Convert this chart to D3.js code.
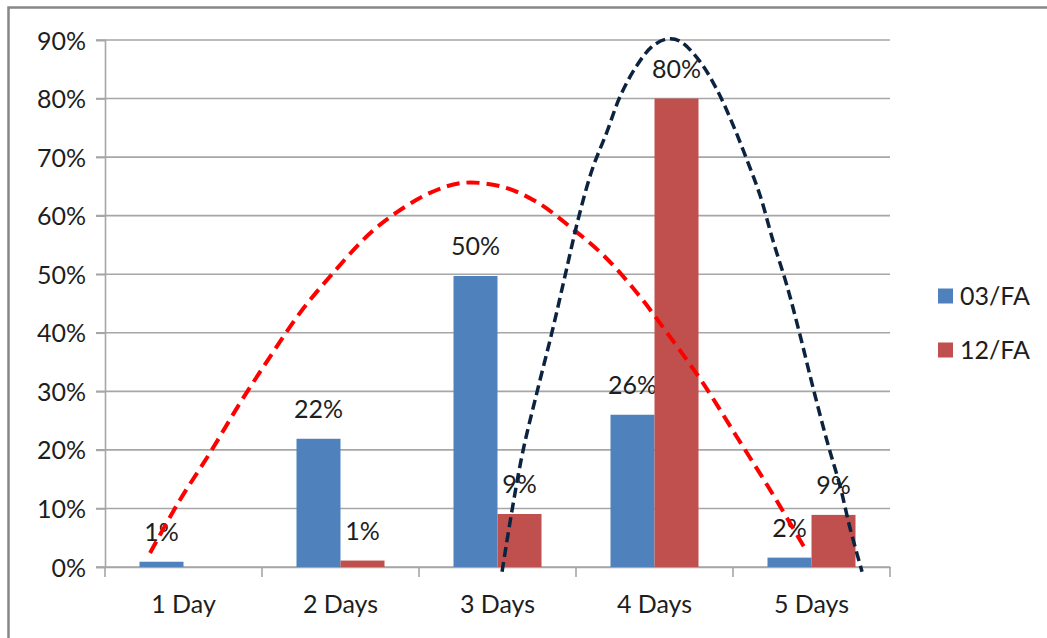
<!DOCTYPE html>
<html>
<head>
<meta charset="utf-8">
<script src="https://cdn.jsdelivr.net/npm/d3@7"></script>
<style>
  html, body { margin: 0; padding: 0; background: #fff; }
  svg { display: block; }
  text { font-family: Lato, "Open Sans", sans-serif; fill: #1e1e1e; }
</style>
</head>
<body>
<svg id="chart" width="1047" height="638"></svg>
<script>
// ---- data ----
const categories = ["1 Day", "2 Days", "3 Days", "4 Days", "5 Days"];
const seriesNames = ["03/FA", "12/FA"];
const values03 = [0.9, 21.9, 49.7, 26, 1.6];
const values12 = [0, 1.1, 9.05, 80, 8.9];
const labels03 = ["1%", "22%", "50%", "26%", "2%"];
const labels12 = ["", "1%", "9%", "80%", "9%"];
const yTicks = [0, 10, 20, 30, 40, 50, 60, 70, 80, 90];
const seriesColors = ["#4f81bd", "#c0504d"];
// hand-drawn trend curves (x in category units, 0 = "1 Day"; y in %)
const redCurveX = [-0.213, -0.035, 0.169, 0.360, 0.551, 0.742, 0.952, 1.188, 1.360, 1.570, 1.780, 2.035, 2.252, 2.462, 2.672, 2.889, 3.099, 3.309, 3.525, 3.736, 3.971];
const redCurveY = [2.4, 10.9, 19.5, 28.0, 35.9, 43.4, 50.2, 57.0, 60.6, 63.9, 65.6, 64.9, 62.3, 58.1, 53.3, 46.8, 39.3, 31.4, 22.2, 13.2, 2.6];
const navyCurveX = [2.029, 2.092, 2.162, 2.252, 2.347, 2.430, 2.513, 2.602, 2.697, 2.780, 2.889, 2.990, 3.086, 3.162, 3.290, 3.398, 3.500, 3.589, 3.672, 3.755, 3.844, 3.927, 4.010, 4.099, 4.182, 4.245, 4.322];
const navyCurveY = [-0.8, 9.6, 19.8, 29.9, 40.1, 49.7, 59.3, 67.8, 74.3, 80.3, 85.7, 89.0, 90.2, 89.8, 86.3, 81.5, 75.5, 69.5, 63.5, 55.7, 48.0, 39.6, 30.6, 21.5, 13.8, 6.7, -0.8];

// ---- layout ----
const svg = d3.select("#chart");
const L = 105, R = 890, T = 40, B = 567;

// outer frame
svg.append("rect")
  .attr("x", 8.5).attr("y", 7.5).attr("width", 1100).attr("height", 700)
  .attr("fill", "none").attr("stroke", "#878787").attr("stroke-width", 2.5);

const x0 = d3.scaleBand().domain(categories).range([L, R]).paddingInner(0).paddingOuter(0);
const x1 = d3.scaleBand().domain(seriesNames).range([0, x0.bandwidth()]).paddingInner(0).paddingOuter(0.784);
const y = d3.scaleLinear().domain([0, 90]).range([B, T]);
const xc = d3.scaleLinear().domain([-0.5, 4.5]).range([L, R]);

// gridlines
svg.append("g").selectAll("line").data(yTicks).join("line")
  .attr("x1", L - 9).attr("x2", R)
  .attr("y1", d => y(d)).attr("y2", d => y(d))
  .attr("stroke", "#a6a6a6").attr("stroke-width", 1.6);

// y axis
const yAxis = svg.append("g").attr("transform", `translate(${L},0)`)
  .call(d3.axisLeft(y).tickValues(yTicks).tickSize(9).tickPadding(10).tickFormat(d => d + "%"));
yAxis.select(".domain").attr("stroke", "#a6a6a6").attr("stroke-width", 1.6);
yAxis.selectAll(".tick line").attr("stroke", "#a6a6a6").attr("stroke-width", 1.6);
yAxis.selectAll(".tick text").attr("font-size", 25).attr("font-family", "Lato").attr("fill", "#1e1e1e").attr("dy", "0.36em");

// x axis
const xAxis = svg.append("g").attr("transform", `translate(0,${B})`)
  .call(d3.axisBottom(x0).tickSize(0).tickPadding(28));
xAxis.select(".domain").attr("stroke", "#a6a6a6").attr("stroke-width", 1.6);
xAxis.selectAll(".tick text").attr("font-size", 25).attr("font-family", "Lato").attr("fill", "#1e1e1e");
// category boundary ticks
const bounds = categories.map(c => x0(c)).concat([x0(categories[categories.length - 1]) + x0.bandwidth()]);
svg.append("g").selectAll("line").data(bounds).join("line")
  .attr("x1", d => d).attr("x2", d => d).attr("y1", B).attr("y2", B + 10)
  .attr("stroke", "#a6a6a6").attr("stroke-width", 1.6);

// bars
const seriesData = [values03, values12];
const seriesLabels = [labels03, labels12];
seriesNames.forEach((s, si) => {
  const g = svg.append("g");
  g.selectAll("rect").data(categories).join("rect")
    .attr("x", c => x0(c) + x1(s))
    .attr("width", x1.bandwidth())
    .attr("y", (c, i) => y(seriesData[si][i]))
    .attr("height", (c, i) => B - y(seriesData[si][i]))
    .attr("fill", seriesColors[si]);
  g.selectAll("text").data(categories).join("text")
    .attr("x", c => x0(c) + x1(s) + x1.bandwidth() / 2)
    .attr("y", (c, i) => y(seriesData[si][i]) - 21)
    .attr("text-anchor", "middle")
    .attr("font-size", 25)
    .text((c, i) => seriesLabels[si][i]);
});

// curves
const line = d3.line().x(d => xc(d[0])).y(d => y(d[1])).curve(d3.curveCatmullRom.alpha(0.5));
svg.append("path").datum(redCurveX.map((v, i) => [v, redCurveY[i]]))
  .attr("d", line).attr("fill", "none").attr("stroke", "#ff0000")
  .attr("stroke-width", 4).attr("stroke-dasharray", "13,7");
svg.append("path").datum(navyCurveX.map((v, i) => [v, navyCurveY[i]]))
  .attr("d", line).attr("fill", "none").attr("stroke", "#0c2340")
  .attr("stroke-width", 3.5).attr("stroke-dasharray", "10,5");

// legend
const lg = svg.append("g");
seriesNames.forEach((s, i) => {
  const cy = 296 + i * 54;
  lg.append("rect").attr("x", 938).attr("y", cy - 7.5).attr("width", 15).attr("height", 15).attr("fill", seriesColors[i]);
  lg.append("text").attr("x", 960).attr("y", cy).attr("dy", "0.36em").attr("font-size", 25).text(s);
});
</script>
</body>
</html>
